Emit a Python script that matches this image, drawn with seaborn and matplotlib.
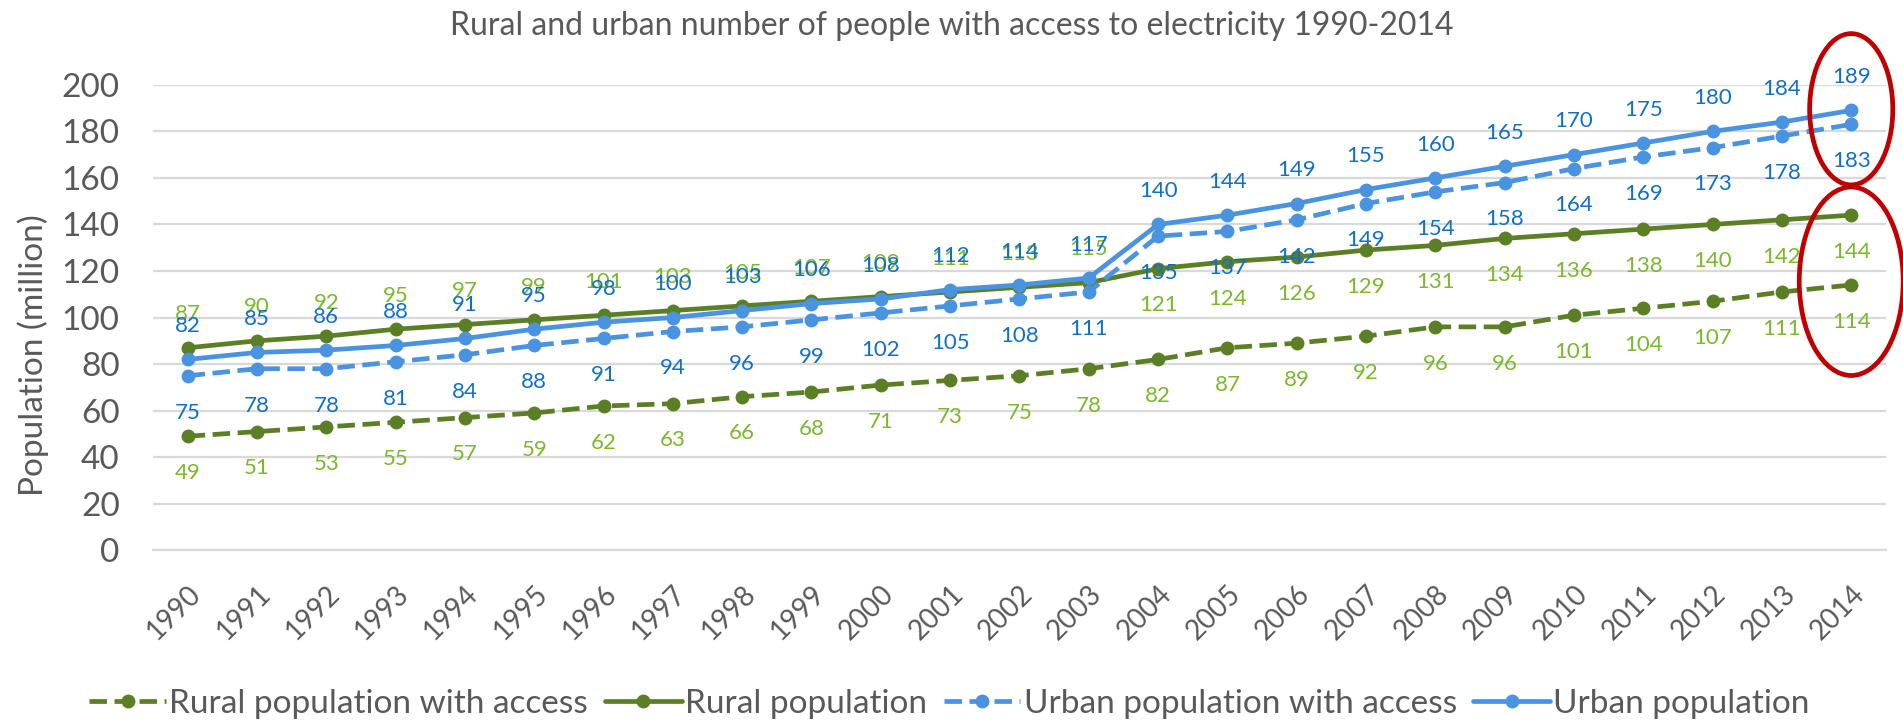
import matplotlib
matplotlib.use("Agg")
import matplotlib.pyplot as plt
from matplotlib.patches import Ellipse
import seaborn as sns
import pandas as pd

years = list(range(1990, 2015))
rural_access = [49, 51, 53, 55, 57, 59, 62, 63, 66, 68, 71, 73, 75, 78, 82,
                87, 89, 92, 96, 96, 101, 104, 107, 111, 114]
rural_total = [87, 90, 92, 95, 97, 99, 101, 103, 105, 107, 109, 111, 113, 115, 121,
               124, 126, 129, 131, 134, 136, 138, 140, 142, 144]
urban_access = [75, 78, 78, 81, 84, 88, 91, 94, 96, 99, 102, 105, 108, 111, 135,
                137, 142, 149, 154, 158, 164, 169, 173, 178, 183]
urban_total = [82, 85, 86, 88, 91, 95, 98, 100, 103, 106, 108, 112, 114, 117, 140,
               144, 149, 155, 160, 165, 170, 175, 180, 184, 189]

title = "Rural and urban number of people with access to electricity 1990-2014"
ylabel = "Population (million)"

sns.set_theme(style="white")
plt.rcParams["font.family"] = ["Lato", "DejaVu Sans"]

GREEN = "#5B7F24"
GREEN_TXT = "#7AB82C"
BLUE = "#4A93E0"
BLUE_TXT = "#1170C4"
GRAY = "#595959"

fig = plt.figure(figsize=(19.03, 7.25), dpi=100)
ax = fig.add_axes([0.0804, 0.241, 0.9106, 0.642])

series = [
    ("Rural population with access", rural_access, GREEN, GREEN_TXT, "--"),
    ("Rural population", rural_total, GREEN, GREEN_TXT, "-"),
    ("Urban population with access", urban_access, BLUE, BLUE_TXT, "--"),
    ("Urban population", urban_total, BLUE, BLUE_TXT, "-"),
]

for name, vals, col, _, ls in series:
    df = pd.DataFrame({"year": years, "value": vals})
    sns.lineplot(data=df, x="year", y="value", ax=ax, color=col, linestyle=ls,
                 linewidth=3.4, marker="o", markersize=10, markeredgewidth=0,
                 label=name, legend=False, zorder=3)

# value labels: above or below each point
def side(name, year):
    if name == "Rural population":
        return 1 if year <= 2003 else -1
    if name == "Urban population":
        return 1
    return -1

for name, vals, _, tcol, _ in series:
    for x, v in zip(years, vals):
        d = side(name, x)
        off = 24 if d > 0 else -26.5
        ax.annotate(f"{v}", (x, v), xytext=(0, off), textcoords="offset points",
                    ha="center", va="center", color=tcol, fontsize=16,
                    annotation_clip=False, zorder=4)

ax.set_xlim(1989.5, 2014.5)
ax.set_ylim(0, 200)
ax.set_yticks(range(0, 201, 20))
ax.set_xticks(years)
ax.set_xticklabels([str(y) for y in years], rotation=45, ha="right",
                   rotation_mode="anchor", fontsize=20, color=GRAY)
ax.tick_params(axis="y", labelsize=24, labelcolor=GRAY, length=0, pad=24)
ax.tick_params(axis="x", length=0, pad=22)
ax.grid(axis="y", color="#D9D9D9", linewidth=1.6)
ax.set_axisbelow(True)
for s in ["top", "right", "left"]:
    ax.spines[s].set_visible(False)
ax.spines["bottom"].set_color("#D9D9D9")
ax.spines["bottom"].set_linewidth(1.6)
ax.set_xlabel("")
ax.set_ylabel(ylabel, fontsize=24, color=GRAY)
ax.yaxis.set_label_coords(-0.06, 0.42)

fig.suptitle(title, x=0.5, y=0.985, fontsize=23, color=GRAY)

# highlight the 2014 values
for cy, h, w in [(189.5, 65, 1.2), (115.6, 81, 1.5)]:
    ax.add_patch(Ellipse((2014, cy), w, h, fill=False, edgecolor="#C00000",
                         linewidth=3.4, clip_on=False, zorder=5))

handles, labels = ax.get_legend_handles_labels()
fig.legend(handles, labels, loc="center", bbox_to_anchor=(0.499, 0.029), ncol=4,
           frameon=False, fontsize=24, handlelength=2.3, handletextpad=0.1,
           columnspacing=0.5, labelcolor=GRAY)

fig.savefig("out.png", dpi=100)
